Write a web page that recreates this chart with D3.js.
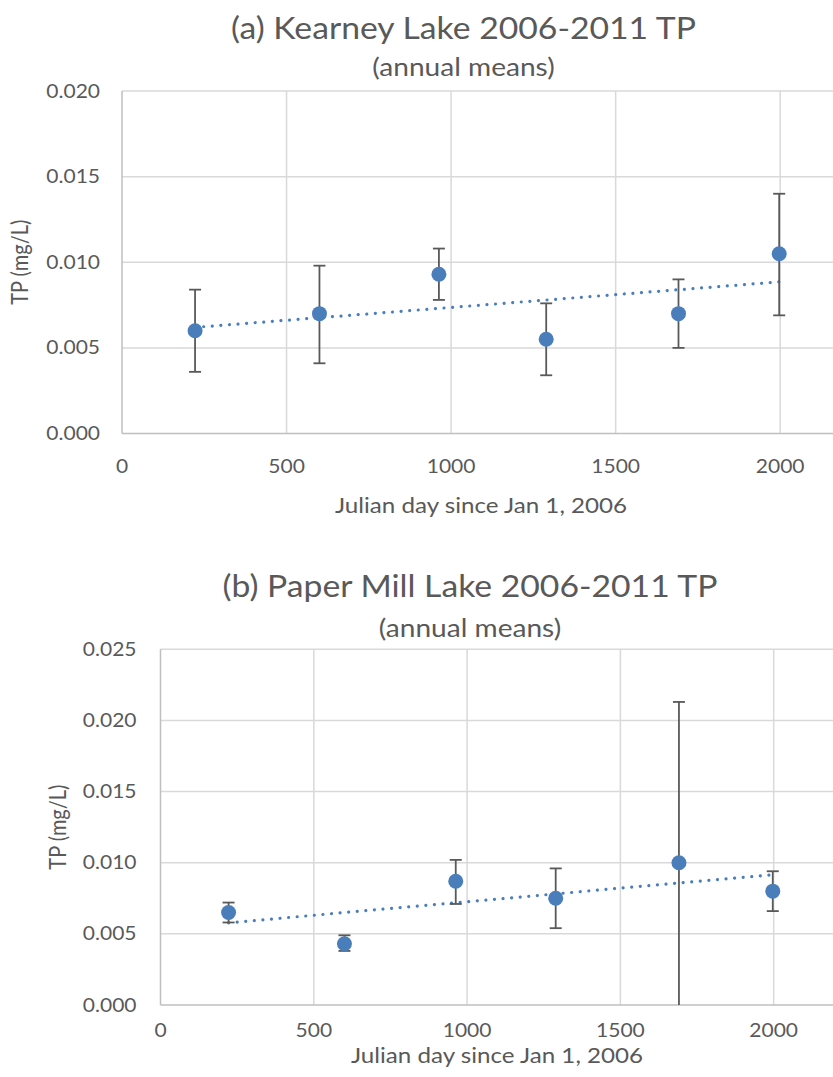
<!DOCTYPE html>
<html>
<head>
<meta charset="utf-8">
<script src="https://cdn.jsdelivr.net/npm/d3@7"></script>
<style>
  body { margin: 0; background: #fff; }
  svg { display: block; }
  text { font-family: Lato, "Open Sans", sans-serif; fill: #595959; }
</style>
</head>
<body>
<script>
var width = 833,
    height = 1077,
    sx = 1.124; // the reference text is a bit wide, stretch it horizontally

// sampling days (Julian day since Jan 1, 2006)
var days = [222, 600, 963, 1289, 1691, 1997];

// (a) Kearney Lake annual mean TP (mg/L) and error bar ends
var kearneyTP   = [0.0060, 0.0070, 0.0093, 0.0055, 0.0070, 0.0105];
var kearneyLow  = [0.0036, 0.0041, 0.0078, 0.0034, 0.0050, 0.0069];
var kearneyHigh = [0.0084, 0.0098, 0.0108, 0.0076, 0.0090, 0.0140];

// (b) Paper Mill Lake
var paperTP   = [0.0065, 0.0043, 0.0087, 0.0075, 0.0100, 0.0080];
var paperLow  = [0.0058, 0.0038, 0.0071, 0.0054, 0.0000, 0.0066];
var paperHigh = [0.0072, 0.0049, 0.0102, 0.0096, 0.0213, 0.0094];

var xTicks = [0, 500, 1000, 1500, 2000];
var kearneyYTicks = [0, 0.005, 0.010, 0.015, 0.020];
var paperYTicks = [0, 0.005, 0.010, 0.015, 0.020, 0.025];

var blue = '#4a7ebb',
    grid = '#d9d9d9',
    axisCol = '#bfbfbf',
    errCol = '#595959';

var svg = d3.select('body').append('svg')
    .attr('width', width)
    .attr('height', height);

drawPanel({
  title: '(a) Kearney Lake 2006-2011 TP',
  left: 122, right: 846, top: 91, bottom: 433.5,
  titleX: 463.5, titleY: 39, subY: 76,
  yMax: 0.020, yTicks: kearneyYTicks, yLabGap: 22,
  tp: kearneyTP, low: kearneyLow, high: kearneyHigh,
  xTickY: 473, xTitleX: 481, xTitleY: 513, yTitleX: 28
});

drawPanel({
  title: '(b) Paper Mill Lake 2006-2011 TP',
  left: 160.5, right: 835, top: 649.3, bottom: 1005,
  titleX: 470, titleY: 597, subY: 637,
  yMax: 0.025, yTicks: paperYTicks, yLabGap: 24,
  tp: paperTP, low: paperLow, high: paperHigh,
  xTickY: 1037, xTitleX: 497, xTitleY: 1063, yTitleX: 66
});

function wide(px, py) {
  return 'translate(' + px + ',' + py + ') scale(' + sx + ',1)';
}

function drawPanel(cfg) {
  var x = d3.scaleLinear().domain([0, 2200]).range([cfg.left, cfg.right]);
  var y = d3.scaleLinear().domain([0, cfg.yMax]).range([cfg.bottom, cfg.top]);

  var g = svg.append('g');

  // gridlines
  g.selectAll('.hgrid').data(cfg.yTicks.slice(1)).enter().append('line')
    .attr('x1', cfg.left).attr('x2', width)
    .attr('y1', function(d){ return y(d); }).attr('y2', function(d){ return y(d); })
    .attr('stroke', grid).attr('stroke-width', 1.5);

  g.selectAll('.vgrid').data(xTicks.slice(1)).enter().append('line')
    .attr('x1', function(d){ return x(d); }).attr('x2', function(d){ return x(d); })
    .attr('y1', cfg.top).attr('y2', cfg.bottom)
    .attr('stroke', grid).attr('stroke-width', 1.5);

  // axis lines
  g.append('line').attr('x1', cfg.left).attr('x2', cfg.left)
    .attr('y1', cfg.top).attr('y2', cfg.bottom)
    .attr('stroke', axisCol).attr('stroke-width', 1.5);
  g.append('line').attr('x1', cfg.left).attr('x2', width)
    .attr('y1', cfg.bottom).attr('y2', cfg.bottom)
    .attr('stroke', axisCol).attr('stroke-width', 1.5);

  // tick labels
  var fmt = d3.format('.3f');
  g.selectAll('.ylab').data(cfg.yTicks).enter().append('text')
    .attr('transform', function(d){ return wide(cfg.left - cfg.yLabGap, y(d)); })
    .attr('dy', '0.35em').attr('text-anchor', 'end')
    .style('font-size', '18.7px')
    .text(function(d){ return fmt(d); });

  g.selectAll('.xlab').data(xTicks).enter().append('text')
    .attr('transform', function(d){ return wide(x(d), cfg.xTickY); })
    .attr('text-anchor', 'middle')
    .style('font-size', '18.7px')
    .text(function(d){ return d; });

  // titles
  g.append('text').attr('transform', wide(cfg.titleX, cfg.titleY))
    .attr('text-anchor', 'middle').style('font-size', '30px')
    .text(cfg.title);
  g.append('text').attr('transform', wide(cfg.titleX, cfg.subY))
    .attr('text-anchor', 'middle').style('font-size', '25px')
    .text('(annual means)');

  g.append('text').attr('transform', wide(cfg.xTitleX, cfg.xTitleY))
    .attr('text-anchor', 'middle').style('font-size', '21.5px')
    .text('Julian day since Jan 1, 2006');

  g.append('text')
    .attr('transform', 'translate(' + cfg.yTitleX + ',' + ((cfg.top + cfg.bottom) / 2) + ') rotate(-90) scale(1,' + sx + ')')
    .attr('text-anchor', 'middle').style('font-size', '20px')
    .text('TP (mg/L)');

  // linear trendline (least squares fit of the means)
  var mx = d3.mean(days), my = d3.mean(cfg.tp);
  var sxy = d3.sum(days, function(d, i){ return (d - mx) * (cfg.tp[i] - my); });
  var sxx = d3.sum(days, function(d){ return (d - mx) * (d - mx); });
  var slope = sxy / sxx, icpt = my - slope * mx;
  var ends = [d3.min(days), d3.max(days)];

  g.append('path')
    .datum(ends)
    .attr('d', d3.line()
      .x(function(d){ return x(d); })
      .y(function(d){ return y(icpt + slope * d); }))
    .attr('fill', 'none').attr('stroke', blue)
    .attr('stroke-width', 3.2).attr('stroke-linecap', 'round')
    .attr('stroke-dasharray', '0.01 8.6');

  // error bars
  var pts = days.map(function(d, i){
    return { day: d, tp: cfg.tp[i], lo: cfg.low[i], hi: cfg.high[i] };
  });

  var eb = g.selectAll('.err').data(pts).enter().append('g');
  eb.append('line')
    .attr('x1', function(d){ return x(d.day); }).attr('x2', function(d){ return x(d.day); })
    .attr('y1', function(d){ return y(d.lo); }).attr('y2', function(d){ return y(d.hi); })
    .attr('stroke', errCol).attr('stroke-width', 1.8);
  eb.filter(function(d){ return d.lo > 0; }).append('line')
    .attr('x1', function(d){ return x(d.day) - 6; }).attr('x2', function(d){ return x(d.day) + 6; })
    .attr('y1', function(d){ return y(d.lo); }).attr('y2', function(d){ return y(d.lo); })
    .attr('stroke', errCol).attr('stroke-width', 1.8);
  eb.append('line')
    .attr('x1', function(d){ return x(d.day) - 6; }).attr('x2', function(d){ return x(d.day) + 6; })
    .attr('y1', function(d){ return y(d.hi); }).attr('y2', function(d){ return y(d.hi); })
    .attr('stroke', errCol).attr('stroke-width', 1.8);

  // points
  g.selectAll('.pt').data(pts).enter().append('circle')
    .attr('cx', function(d){ return x(d.day); })
    .attr('cy', function(d){ return y(d.tp); })
    .attr('r', 7.5)
    .attr('fill', blue);
}
</script>
</body>
</html>
